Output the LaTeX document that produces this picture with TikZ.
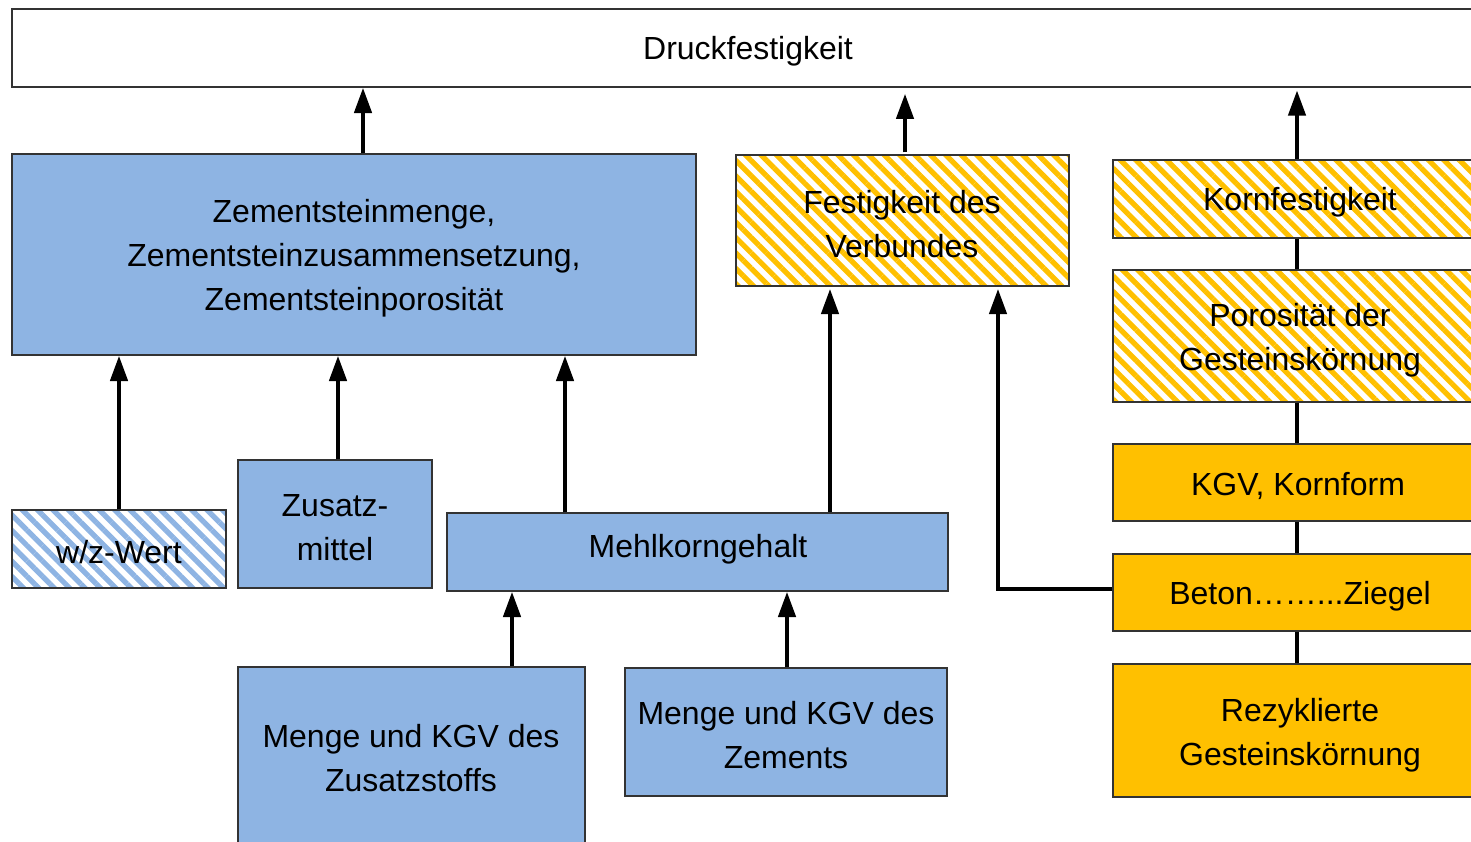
\documentclass[tikz,border=0pt]{standalone}
\usepackage{fontspec}
\setmainfont{Liberation Sans}
\usetikzlibrary{arrows.meta,patterns.meta,fit}
\definecolor{cblue}{HTML}{8EB4E3}
\definecolor{cyel}{HTML}{FFC000}
\begin{document}
\begin{tikzpicture}[x=0.02cm,y=-0.02cm,
  box/.style={draw=black!80,line width=0.6pt,inner sep=0pt,rectangle},
  txt/.style={align=center,inner sep=0pt,yshift=-1.7pt,font=\fontsize{18.2}{25}\selectfont},
  whitebox/.style={box,fill=white},
  bluebox/.style={box,fill=cblue},
  yelbox/.style={box,fill=cyel},
  bluehatch/.style={box,pattern={Lines[angle=-45,distance=6.2pt,line width=3pt]},pattern color=cblue},
  yelhatch/.style={box,pattern={Lines[angle=-45,distance=6.2pt,line width=3pt]},pattern color=cyel},
  arr/.style={line width=2.7pt,-{Triangle[length=14.5pt,width=9.6pt]}},
  conn/.style={line width=2.7pt}]
\useasboundingbox (0,0) rectangle (1471,842);

\node[whitebox,fit={(12,9)(1485,87)}] (druck) {};
\node[bluebox,fit={(12,154)(696,355)}] (zem) {};
\node[yelhatch,fit={(736,155)(1069,286)}] (fest) {};
\node[yelhatch,fit={(1113,160)(1487,238)}] (korn) {};
\node[yelhatch,fit={(1113,270)(1487,402)}] (poro) {};
\node[yelbox,fit={(1113,444)(1487,521)}] (kgv) {};
\node[yelbox,fit={(1113,554)(1487,631)}] (beton) {};
\node[yelbox,fit={(1113,664)(1487,797)}] (rezy) {};
\node[bluehatch,fit={(12,510)(226,588)}] (wz) {};
\node[bluebox,fit={(238,460)(432,588)}] (zus) {};
\node[bluebox,fit={(447,513)(948,591)}] (mehl) {};
\node[bluebox,fit={(238,667)(585,843)}] (zstoff) {};
\node[bluebox,fit={(625,668)(947,796)}] (zemt) {};

\node[txt] (drucktx) at (748,48) {Druckfestigkeit};
\node[txt] (zemtx) at (354,255) {Zementsteinmenge,\\Zementsteinzusammensetzung,\\Zementsteinporosität};
\node[txt] (festtx) at (902,221) {Festigkeit des\\Verbundes};
\node[txt] (korntx) at (1300,199) {Kornfestigkeit};
\node[txt] (porotx) at (1300,337) {Porosität der\\Gesteinskörnung};
\node[txt] (kgvtx) at (1298,483) {KGV, Kornform};
\node[txt] (betontx) at (1300,593) {Beton……...Ziegel};
\node[txt] (rezytx) at (1300,732) {Rezyklierte\\Gesteinskörnung};
\node[txt] (wztx) at (119,549) {w/z-Wert};
\node[txt] (zustx) at (335,525) {Zusatz-\\mittel};
\node[txt] (mehltx) at (698,546) {Mehlkorngehalt};
\node[txt] (zstofftx) at (411,755) {Menge und KGV des\\Zusatzstoffs};
\node[txt] (zemttx) at (786,732) {Menge und KGV des\\Zements};

\coordinate (a1) at (363,0);
\coordinate (a2) at (905,0);
\coordinate (a3) at (1297,0);
\coordinate (a4) at (119,0);
\coordinate (a5) at (338,0);
\coordinate (a6) at (565,0);
\coordinate (a7) at (830,0);
\coordinate (a8) at (998,0);
\coordinate (a9) at (512,0);
\coordinate (a10) at (787,0);

\draw[arr] (zem.north -| a1) -- (druck.south -| a1);
\draw[arr,shorten >=3.4pt] (fest.north -| a2) -- (druck.south -| a2);
\draw[arr,shorten >=1.5pt] (korn.north -| a3) -- (druck.south -| a3);
\draw[conn] (korn.south -| a3) -- (poro.north -| a3);
\draw[conn] (poro.south -| a3) -- (kgv.north -| a3);
\draw[conn] (kgv.south -| a3) -- (beton.north -| a3);
\draw[conn] (beton.south -| a3) -- (rezy.north -| a3);
\draw[arr] (wz.north -| a4) -- (zem.south -| a4);
\draw[arr] (zus.north -| a5) -- (zem.south -| a5);
\draw[arr] (mehl.north -| a6) -- (zem.south -| a6);
\draw[arr] (mehl.north -| a7) -- (fest.south -| a7);
\draw[arr] ([yshift=2pt]beton.west) -- ([yshift=2pt]beton.west -| a8) -- (fest.south -| a8);
\draw[arr] (zstoff.north -| a9) -- (mehl.south -| a9);
\draw[arr] (zemt.north -| a10) -- (mehl.south -| a10);
\end{tikzpicture}
\end{document}
